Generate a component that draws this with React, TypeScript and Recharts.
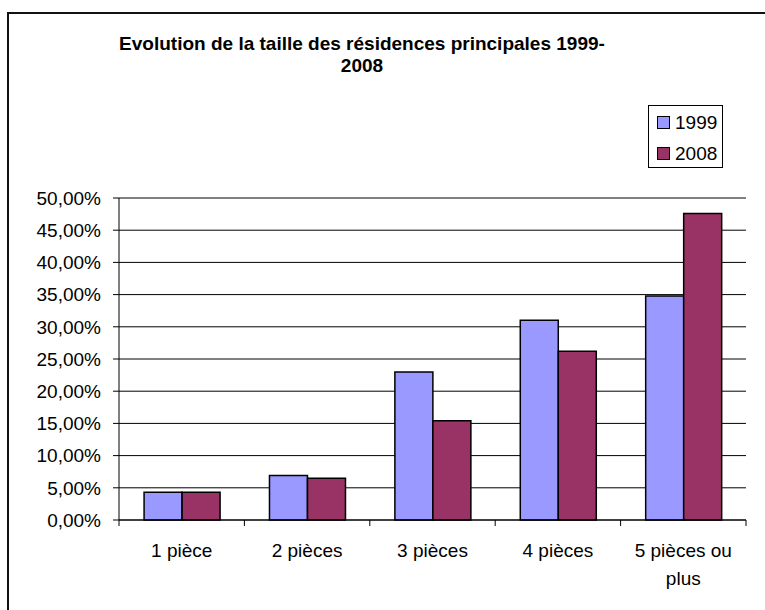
import { BarChart, Bar, XAxis, YAxis, CartesianGrid, Legend } from 'recharts';

const categories = ['1 pièce', '2 pièces', '3 pièces', '4 pièces', '5 pièces ou plus'];
const values1999 = [4.3, 6.9, 23.0, 31.0, 34.8];
const values2008 = [4.3, 6.5, 15.4, 26.2, 47.6];
const yTicks = [0, 5, 10, 15, 20, 25, 30, 35, 40, 45, 50];

const chartData = categories.map((name, i) => ({
  name,
  y1999: values1999[i],
  y2008: values2008[i],
}));

const CHART_W = 765;
const CHART_H = 610;
const MARGIN = { top: 198, right: 19, bottom: 30, left: 19 };
const Y_AXIS_W = 100;
const X_AXIS_H = 60;
const PLOT_W = CHART_W - MARGIN.left - MARGIN.right - Y_AXIS_W;
const BAND = PLOT_W / categories.length;

const FONT = '"Liberation Sans", Arial, sans-serif';
const FONT_SIZE = 19;

const formatPercent = (v: number) => `${v.toFixed(2).replace('.', ',')}%`;

let measureCtx: CanvasRenderingContext2D | null = null;
function textWidth(s: string) {
  if (!measureCtx) {
    measureCtx = document.createElement('canvas').getContext('2d');
    if (measureCtx) measureCtx.font = `${FONT_SIZE}px ${FONT}`;
  }
  return measureCtx ? measureCtx.measureText(s).width : s.length * FONT_SIZE * 0.5;
}

// greedy word wrap to the category band width
function wrapLabel(label: string, maxWidth: number) {
  const lines: string[] = [];
  let current = '';
  for (const word of label.split(' ')) {
    const next = current ? `${current} ${word}` : word;
    if (current && textWidth(next) > maxWidth) {
      lines.push(current);
      current = word;
    } else {
      current = next;
    }
  }
  if (current) lines.push(current);
  return lines;
}

// Excel-style category axis: tick marks sit between categories, label centred
function CategoryTick(props: any) {
  const { x, y, payload, index } = props;
  const left = x - BAND / 2;
  const right = x + BAND / 2;
  const lines = wrapLabel(String(payload.value), BAND - 4);
  return (
    <g>
      <line x1={left} y1={y - 6} x2={left} y2={y} stroke="#000" />
      {index === categories.length - 1 && (
        <line x1={right} y1={y - 6} x2={right} y2={y} stroke="#000" />
      )}
      <text
        x={x}
        y={y + 31}
        textAnchor="middle"
        fontSize={FONT_SIZE}
        fontFamily={FONT}
        fill="#000"
      >
        {lines.map((line, i) => (
          <tspan key={i} x={x} dy={i === 0 ? 0 : 28}>
            {line}
          </tspan>
        ))}
      </text>
    </g>
  );
}

function LegendBox({ payload }: any) {
  return (
    <div
      style={{
        boxSizing: 'border-box',
        width: 75,
        height: 63,
        border: '1px solid #000',
        background: '#fff',
        padding: '1px 0 0 8px',
        fontFamily: FONT,
        fontSize: FONT_SIZE,
        color: '#000',
      }}
    >
      {(payload || []).map((entry: any) => (
        <div key={entry.value} style={{ display: 'flex', alignItems: 'center', height: 31 }}>
          <span
            style={{
              display: 'inline-block',
              width: 11,
              height: 11,
              background: entry.color,
              border: '1px solid #000',
              marginRight: 5,
            }}
          />
          <span>{entry.value}</span>
        </div>
      ))}
    </div>
  );
}

export default function App() {
  return (
    <div
      style={{
        position: 'fixed',
        left: 0,
        top: 0,
        width: CHART_W,
        height: CHART_H,
        overflow: 'hidden',
        background: '#fff',
      }}
    >
      <div
        style={{
          position: 'absolute',
          left: 7,
          top: 12,
          width: 820,
          height: 700,
          borderTop: '2px solid #111',
          borderLeft: '2px solid #111',
        }}
      />
      <div
        style={{
          position: 'absolute',
          left: 62,
          top: 33,
          width: 600,
          textAlign: 'center',
          fontFamily: FONT,
          fontWeight: 'bold',
          fontSize: FONT_SIZE,
          lineHeight: '22px',
          color: '#000',
        }}
      >
        Evolution de la taille des résidences principales 1999-
        <br />
        2008
      </div>
      <div style={{ position: 'absolute', left: 0, top: 0 }}>
        <BarChart
          width={CHART_W}
          height={CHART_H}
          data={chartData}
          margin={MARGIN}
          barCategoryGap="20%"
          barGap={0}
        >
          <CartesianGrid vertical={false} stroke="#000" strokeWidth={1} />
          <XAxis
            dataKey="name"
            height={X_AXIS_H}
            axisLine={{ stroke: '#000' }}
            tickLine={false}
            tickSize={6}
            tickMargin={0}
            interval={0}
            tick={<CategoryTick />}
          />
          <YAxis
            width={Y_AXIS_W}
            domain={[0, 50]}
            ticks={yTicks}
            interval={0}
            tickFormatter={formatPercent}
            axisLine={{ stroke: '#000' }}
            tickLine={{ stroke: '#000' }}
            tickSize={6}
            tickMargin={12}
            tick={{ fill: '#000', fontSize: FONT_SIZE, fontFamily: FONT }}
          />
          {/* vertical + centred keeps the legend from shrinking the plot area */}
          <Legend
            layout="vertical"
            align="center"
            verticalAlign="middle"
            content={<LegendBox />}
            wrapperStyle={{ position: 'absolute', left: 648, top: 105, width: 75 }}
          />
          <Bar dataKey="y1999" name="1999" fill="#9999FF" stroke="#000" strokeWidth={1.5} isAnimationActive={false} />
          <Bar dataKey="y2008" name="2008" fill="#993366" stroke="#000" strokeWidth={1.5} isAnimationActive={false} />
        </BarChart>
      </div>
    </div>
  );
}
